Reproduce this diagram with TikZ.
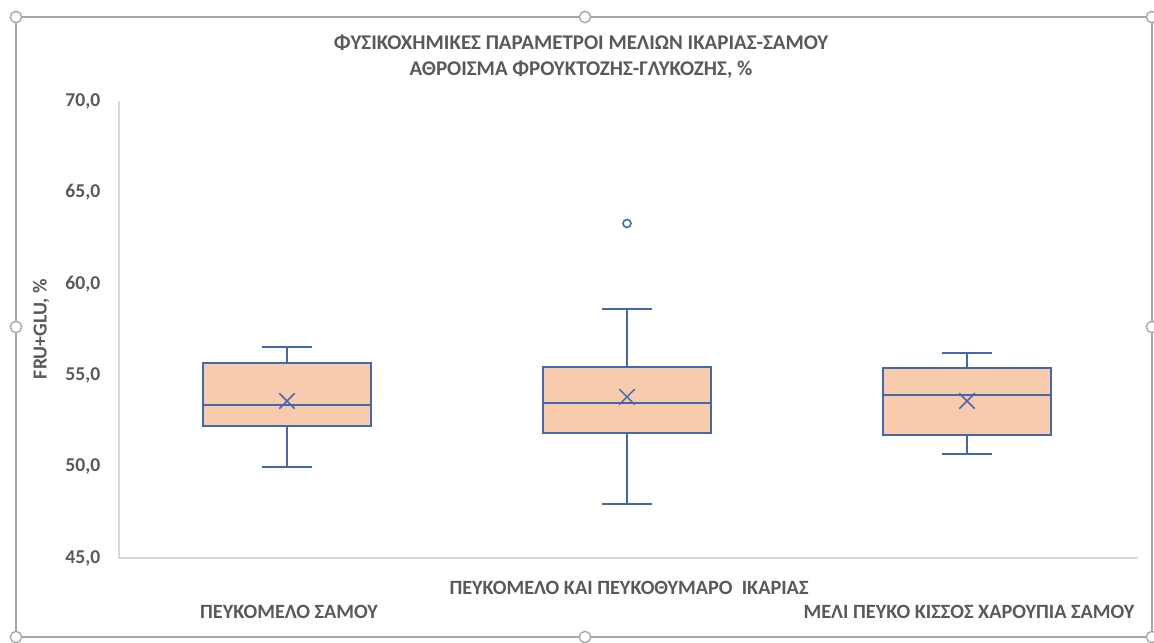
\documentclass[tikz,border=0pt]{standalone}
\usepackage{fontspec}
\setmainfont{Carlito}
\usetikzlibrary{shapes.misc,positioning}

\definecolor{boxblue}{HTML}{4468B0}
\definecolor{boxfill}{HTML}{F8CBAD}
\definecolor{textgray}{HTML}{595959}
\definecolor{gridgray}{HTML}{D9D9D9}
\definecolor{framegray}{HTML}{A6A6A6}

\begin{document}
\begin{tikzpicture}[
    x=0.75pt, y=0.75pt,
    frame/.style={draw=framegray, line width=1.1pt},
    handle/.style={circle, draw=framegray, fill=white, line width=1pt, inner sep=0pt, minimum size=8.5pt},
    axisline/.style={draw=gridgray, line width=1pt},
    quartile/.style={draw=boxblue, fill=boxfill, line width=1.5pt},
    whisker/.style={draw=boxblue, line width=1.2pt},
    meanmark/.style={cross out, draw=boxblue, line width=1.1pt, inner sep=0pt, minimum size=10.5pt},
    outlier/.style={circle, draw=boxblue, fill=white, line width=1.2pt, inner sep=0pt, minimum size=6pt},
    ticklabel/.style={anchor=east, font=\fontsize{14.7}{16}\selectfont\bfseries, text=textgray},
    catlabel/.style={font=\fontsize{15.2}{17}\selectfont\bfseries, text=textgray},
    charttitle/.style={font=\fontsize{15.7}{19.5}\selectfont\bfseries, text=textgray, align=center}
]
\useasboundingbox (0,0) rectangle (1154,643);

% Chart frame and selection handles
\draw[frame] (16,6) rectangle (1152,626);
\node[handle] (h_tl) at (16,626) {};
\node[handle] (h_tm) at (585,626) {};
\node[handle] (h_tr) at (1152,626) {};
\node[handle] (h_ml) at (16,316) {};
\node[handle] (h_mr) at (1152,316) {};
\node[handle] (h_bl) at (16,6) {};
\node[handle] (h_bm) at (585,6) {};
\node[handle] (h_br) at (1152,6) {};

% Title
\node[charttitle] (title) at (581,586) {ΦΥΣΙΚΟΧΗΜΙΚΕΣ ΠΑΡΑΜΕΤΡΟΙ ΜΕΛΙΩΝ ΙΚΑΡΙΑΣ-ΣΑΜΟΥ\\ΑΘΡΟΙΣΜΑ ΦΡΟΥΚΤΟΖΗΣ-ΓΛΥΚΟΖΗΣ, \%};

% Axis title
\node[catlabel, font=\fontsize{14.9}{17}\selectfont\bfseries, rotate=90] (ytitle) at (41,314) {FRU+GLU, \%};

% Data area, y in value units
\begin{scope}[yshift=-553.2pt, y=13.71pt]

% Axes
\coordinate (origin) at (119,45);
\coordinate (ytop) at (119,70);
\coordinate (xend) at (1138,45);
\draw[axisline] (ytop) -- (origin) -- (xend);

% Tick labels
\foreach \v/\t in {45/{45,0}, 50/{50,0}, 55/{55,0}, 60/{60,0}, 65/{65,0}, 70/{70,0}}
    \node[ticklabel] (tick\v) at (105,\v) {\t};

% Box: Samos pine honey
\draw[whisker] (287,55.67) -- (287,56.54) (262,56.54) -- (312,56.54);
\draw[whisker] (287,52.2) -- (287,49.98) (262,49.98) -- (312,49.98);
\draw[quartile] (203,52.2) rectangle (371,55.67);
\draw[whisker] (203,53.37) -- (371,53.37);
\node[meanmark] (mean_samos) at (287,53.59) {};

% Box: Ikaria pine and thyme honey
\draw[whisker] (627,55.45) -- (627,58.62) (602,58.62) -- (652,58.62);
\draw[whisker] (627,51.84) -- (627,47.95) (602,47.95) -- (652,47.95);
\draw[quartile] (543,51.84) rectangle (711,55.45);
\draw[whisker] (543,53.48) -- (711,53.48);
\node[meanmark] (mean_ikaria) at (627,53.81) {};
\node[outlier] (out_ikaria) at (627,63.3) {};

% Box: Samos mixed honey
\draw[whisker] (967,55.39) -- (967,56.2) (942,56.2) -- (992,56.2);
\draw[whisker] (967,51.73) -- (967,50.68) (942,50.68) -- (992,50.68);
\draw[quartile] (883,51.73) rectangle (1051,55.39);
\draw[whisker] (883,53.92) -- (1051,53.92);
\node[meanmark] (mean_mixed) at (967,53.59) {};

\end{scope}

% Category labels
\node[catlabel] (cat_samos) at (289,31) {ΠΕΥΚΟΜΕΛΟ ΣΑΜΟΥ};
\node[catlabel] (cat_ikaria) at (629,55) {ΠΕΥΚΟΜΕΛΟ ΚΑΙ ΠΕΥΚΟΘΥΜΑΡΟ\ \ ΙΚΑΡΙΑΣ};
\node[catlabel] (cat_mixed) at (969,31) {ΜΕΛΙ ΠΕΥΚΟ ΚΙΣΣΟΣ ΧΑΡΟΥΠΙΑ ΣΑΜΟΥ};

\end{tikzpicture}
\end{document}
